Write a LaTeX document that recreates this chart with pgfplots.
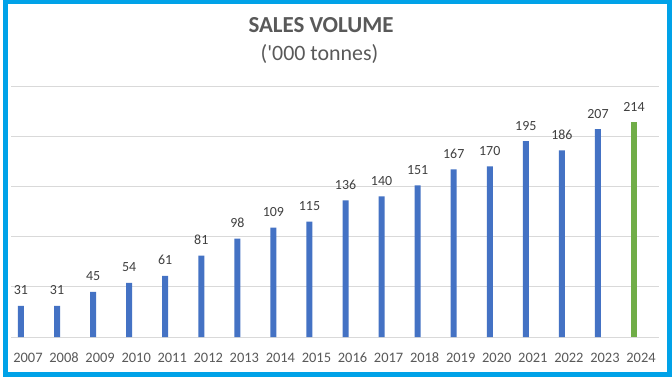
\documentclass[border=0pt]{standalone}
\usepackage{pgfplots}
\pgfplotsset{compat=1.18}
\usepackage{fontspec}
\setmainfont{Carlito}
\definecolor{bblue}{HTML}{4472C4}
\definecolor{bgreen}{HTML}{70AD47}
\definecolor{frame}{HTML}{00A2E8}
\definecolor{gridc}{HTML}{D9D9D9}
\definecolor{txt}{HTML}{404040}
\definecolor{tick}{HTML}{595959}
\begin{document}
\begin{tikzpicture}[x=1bp,y=1bp]
\fill[white] (0,0) rectangle (672,381);
\begin{axis}[
  at={(11bp,44bp)}, anchor=south west,
  scale only axis, width=648bp, height=251bp,
  xmin=-0.277, xmax=17.693, ymin=0, ymax=250,
  axis line style={draw=none},
  ytick={0,50,100,150,200,250}, yticklabels={},
  ymajorgrids, grid style={gridc, line width=0.9bp},
  major tick length=0pt,
  /pgf/number format/assume math mode=true,
  xtick={0,...,17},
  xticklabels={2007,2008,2009,2010,2011,2012,2013,2014,2015,2016,2017,2018,2019,2020,2021,2022,2023,2024},
  xticklabel style={font=\fontsize{14.5}{16}\selectfont, text=tick, anchor=base, yshift=-25bp, xshift=7bp, inner sep=0pt},
  ybar, bar width=6bp, bar shift=0pt,
  nodes near coords={\pgfmathprintnumber[assume math mode=true]{\pgfplotspointmeta}},
  nodes near coords style={font=\fontsize{14}{16}\selectfont, text=txt, anchor=base, yshift=11bp, inner sep=0pt},
  clip=false,
]
\addplot[draw=none, fill=bblue] coordinates {(0,31) (1,31) (2,45) (3,54) (4,61) (5,81) (6,98) (7,109) (8,115) (9,136) (10,140) (11,151) (12,167) (13,170) (14,195) (15,186) (16,207)};
\addplot[draw=none, fill=bgreen] coordinates {(17,214)};
\end{axis}
\node[anchor=base, text=tick, font=\fontsize{23}{27}\selectfont\bfseries, inner sep=0pt] at (321,349) {SALES VOLUME};
\node[anchor=base, text=tick, font=\fontsize{22}{26}\selectfont, inner sep=0pt] at (319.5,321) {(\textquotesingle000 tonnes)};
\draw[frame, line width=5bp] (5.5,6.5) rectangle (669.5,379);
\pgfresetboundingbox
\useasboundingbox (0,0) rectangle (672,381);
\end{tikzpicture}
\end{document}
